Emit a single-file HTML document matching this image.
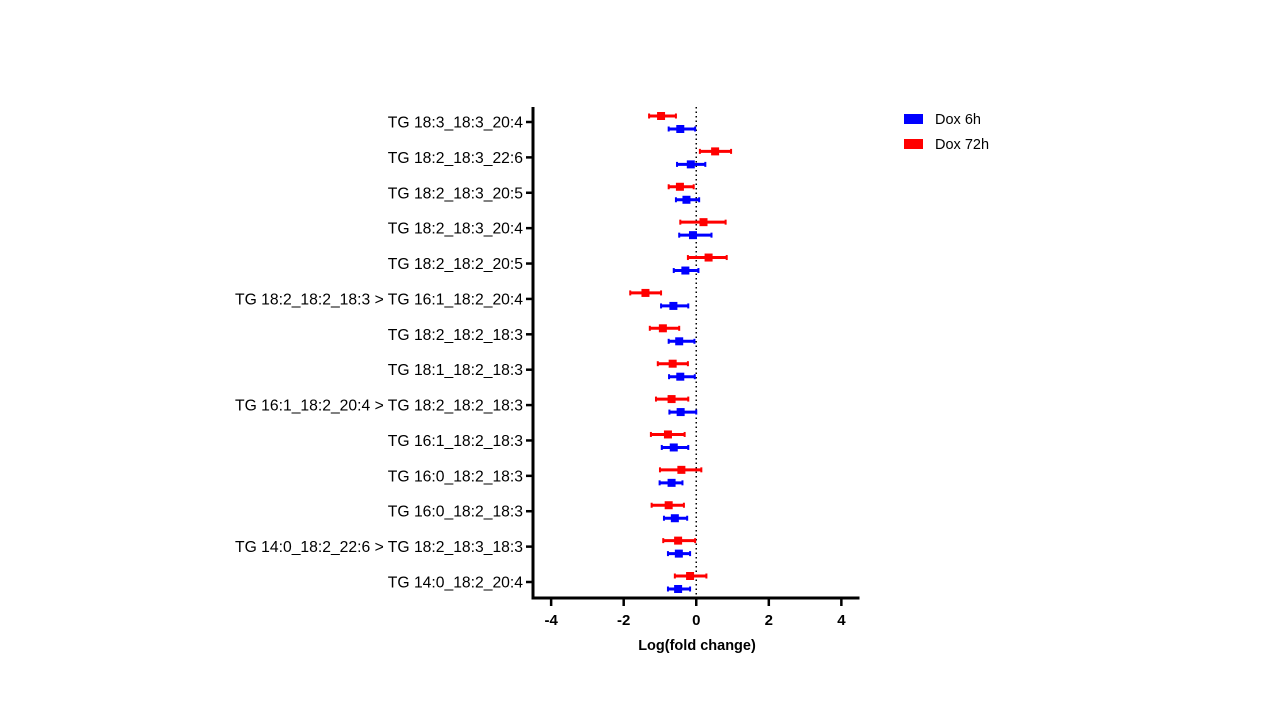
<!DOCTYPE html>
<html><head><meta charset="utf-8"><style>
body{margin:0;background:#fff;width:1280px;height:720px;overflow:hidden}
svg{font-family:"Liberation Sans",Arial,sans-serif}
</style></head><body>
<svg id="chart" width="1280" height="720" viewBox="0 0 1280 720"></svg>
<script>
const categories=["TG 18:3_18:3_20:4","TG 18:2_18:3_22:6","TG 18:2_18:3_20:5","TG 18:2_18:3_20:4","TG 18:2_18:2_20:5","TG 18:2_18:2_18:3 > TG 16:1_18:2_20:4","TG 18:2_18:2_18:3","TG 18:1_18:2_18:3","TG 16:1_18:2_20:4 > TG 18:2_18:2_18:3","TG 16:1_18:2_18:3","TG 16:0_18:2_18:3","TG 16:0_18:2_18:3","TG 14:0_18:2_22:6 > TG 18:2_18:3_18:3","TG 14:0_18:2_20:4"];
const dox6hMean=[-0.44,-0.15,-0.27,-0.09,-0.30,-0.63,-0.47,-0.44,-0.43,-0.62,-0.68,-0.59,-0.48,-0.50];
const dox6hLow=[-0.76,-0.53,-0.56,-0.47,-0.62,-0.97,-0.76,-0.75,-0.74,-0.95,-1.01,-0.89,-0.78,-0.78];
const dox6hHigh=[-0.03,0.25,0.08,0.42,0.06,-0.22,-0.05,-0.04,0.00,-0.22,-0.38,-0.25,-0.17,-0.17];
const dox72hMean=[-0.97,0.52,-0.45,0.20,0.34,-1.40,-0.92,-0.65,-0.68,-0.78,-0.41,-0.76,-0.50,-0.17];
const dox72hLow=[-1.30,0.10,-0.76,-0.44,-0.23,-1.82,-1.28,-1.06,-1.11,-1.25,-1.00,-1.23,-0.91,-0.59];
const dox72hHigh=[-0.56,0.96,-0.07,0.81,0.84,-0.97,-0.47,-0.23,-0.22,-0.32,0.14,-0.34,-0.03,0.28];
const xTicks=[-4,-2,0,2,4];

const svg=document.getElementById('chart');
const NS='http://www.w3.org/2000/svg';
const x0=533,x1=859.5,xmin=-4.5,xmax=4.5,yTop=107,yBot=598;
const xs=v=>x0+(v-xmin)/(xmax-xmin)*(x1-x0);
const rowY=i=>122+i*(582-122)/(categories.length-1);
function el(t,a){const e=document.createElementNS(NS,t);for(const k in a)e.setAttribute(k,a[k]);svg.appendChild(e);return e;}

let z=el('line',{x1:xs(0),x2:xs(0),y1:yTop,y2:yBot,stroke:'#000','stroke-width':1.5,'stroke-dasharray':'1.5,3'});


function series(m,lo,hi,color,dy,name){
 for(let i=0;i<m.length;i++){
  const y=rowY(i)+dy;
  const l=el('line',{x1:xs(lo[i]),x2:xs(hi[i]),y1:y,y2:y,stroke:color,'stroke-width':3});
  
  [lo[i],hi[i]].forEach(v=>{const c=el('line',{x1:xs(v),x2:xs(v),y1:y-2.5,y2:y+2.5,stroke:color,'stroke-width':2});
   });
  const p=el('rect',{x:xs(m[i])-4,y:y-4,width:8,height:8,fill:color});
  
 }
}
series(dox72hMean,dox72hLow,dox72hHigh,'#ff0000',-6,'dox-72h');
series(dox6hMean,dox6hLow,dox6hHigh,'#0000ff',7,'dox-6h');

let a=el('line',{x1:x0,x2:x0,y1:yTop,y2:yBot+1.5,stroke:'#000','stroke-width':3});

a=el('line',{x1:x0-1.5,x2:x1,y1:yBot,y2:yBot,stroke:'#000','stroke-width':3});


categories.forEach((c,i)=>{
 const y=rowY(i);
 const t=el('line',{x1:x0-7,x2:x0,y1:y,y2:y,stroke:'#000','stroke-width':2.5});
 
 const tx=el('text',{x:x0-10,y:y+5.5,'text-anchor':'end','font-size':15.7,fill:'#000'});
 tx.textContent=c;
 
});
xTicks.forEach(v=>{
 const t=el('line',{x1:xs(v),x2:xs(v),y1:yBot,y2:yBot+8,stroke:'#000','stroke-width':2.5});
 
 const tx=el('text',{x:xs(v),y:625,'text-anchor':'middle','font-size':15,'font-weight':'bold',fill:'#000'});
 tx.textContent=v;
 
});
const xt=el('text',{x:697,y:650,'text-anchor':'middle','font-size':14.5,'font-weight':'bold',fill:'#000'});
xt.textContent='Log(fold change)';


[['Dox 6h','#0000ff',119,'legend-entry-dox-6h'],['Dox 72h','#ff0000',144,'legend-entry-dox-72h']].forEach(d=>{
 const r=el('rect',{x:904,y:d[2]-5,width:19,height:10,fill:d[1]});
 
 const t=el('text',{x:935,y:d[2]+5,'font-size':14.5,fill:'#000'});
 t.textContent=d[0];
 
});
</script>
</body></html>
